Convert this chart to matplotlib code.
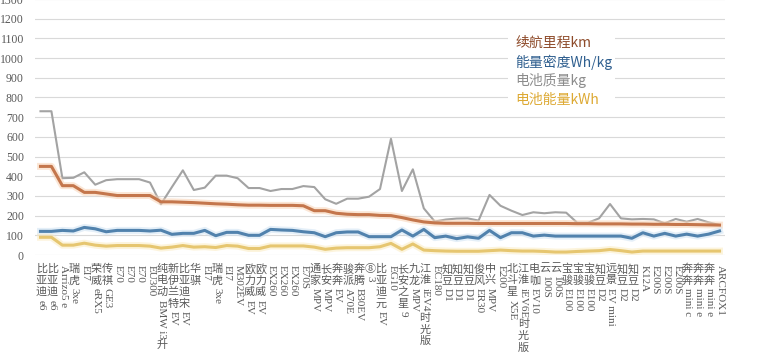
import matplotlib
matplotlib.use('Agg')
import matplotlib.pyplot as plt
import matplotlib.patheffects as pe
from matplotlib.patches import Rectangle
from matplotlib.textpath import TextPath
from matplotlib.font_manager import FontProperties

models = ['比亚迪e6', '比亚迪e6', 'Arrizo5 e', '瑞虎3xe', 'EI7', '荣威eRX5', '传祺GE3',
          'E70', 'E70', 'E70', 'EU300', '纯电动BMW i3 升', '新伊兰特EV', '比亚迪宋EV',
          '华骐', 'EI7', '瑞虎3xe', 'EI7', 'M302EV', '欧力威EV', '欧力威EV',
          'EX260', 'EX260', 'EX260', 'E70S', '通家MPV', '长安MPV', '奔奔EV',
          '骏派A70E', '奔腾B30EV', '⑧3', '比亚迪元EV', 'EG10', '长安之星9',
          '九龙MPV', '江淮iEV4 时光版', 'EC180', '知豆D1', '知豆D1', '知豆D1',
          '俊风ER30', '中兴MPV', 'E200', '北斗星X5E', '江淮iEV6E 时光版',
          '电咖EV10', '云100S', '云100S', '宝骏E100', '宝骏E100', '宝骏E100',
          '知豆D2', '远景EV mini', '知豆D2', '知豆D2', 'K12A', 'E200S', 'E200S',
          'E200S', '奔奔mini c', '奔奔mini e', '奔奔mini e', 'ARCFOX1']

range_km = [450, 450, 352, 352, 318, 318, 310, 302, 302, 302, 302, 270, 270, 268,
            266, 263, 260, 258, 255, 253, 253, 252, 252, 252, 250, 225, 225, 212,
            207, 205, 205, 201, 200, 190, 178, 168, 163, 161, 161, 161, 160, 160,
            160, 160, 160, 160, 160, 160, 160, 159, 159, 158, 158, 158, 157, 157,
            156, 156, 155, 155, 154, 153, 152]

density = [120, 120, 125, 122, 140, 133, 118, 125, 125, 125, 122, 126, 105, 110,
           110, 125, 98, 115, 115, 100, 100, 130, 127, 125, 118, 113, 93, 113,
           117, 117, 93, 93, 93, 127, 96, 130, 88, 96, 83, 92, 85, 125, 88, 113,
           113, 96, 101, 96, 96, 96, 96, 96, 96, 96, 85, 113, 96, 110, 96, 106,
           96, 106, 122]

mass = [730, 730, 390, 392, 420, 357, 380, 385, 385, 385, 368, 258, 345, 430,
        330, 342, 403, 403, 390, 340, 340, 325, 335, 335, 350, 345, 283, 260,
        286, 286, 296, 335, 590, 325, 435, 237, 170, 180, 185, 186, 175, 305,
        250, 225, 203, 217, 212, 217, 215, 164, 164, 186, 259, 186, 181, 183,
        181, 161, 183, 169, 183, 166, 152]

energy = [90, 90, 50, 50, 60, 50, 45, 48, 48, 48, 45, 35, 40, 48, 40, 42, 38,
          48, 45, 33, 33, 46, 46, 46, 46, 40, 29, 35, 37, 37, 37, 42, 59, 29,
          56, 25, 22, 20, 19, 19, 19, 22, 25, 22, 20, 20, 18, 15, 15, 18, 20,
          22, 28, 22, 15, 20, 20, 20, 20, 20, 20, 20, 20]

series_names = ['续航里程km', '能量密度Wh/kg', '电池质量kg', '电池能量kWh']

gray = '#595959'

fig = plt.figure(figsize=(7.6, 3.54), dpi=100)
ax = fig.add_axes([35 / 760, 99 / 354, 690 / 760, 256 / 354])
x = list(range(len(models)))

glow = lambda c: [pe.Stroke(linewidth=5, foreground=c, alpha=0.55), pe.Normal()]
ax.plot(x, range_km, color='#C4764C', lw=2.2, zorder=4, path_effects=glow('#F8D2B4'))
ax.plot(x, density, color='#5182AD', lw=2.2, zorder=4, path_effects=glow('#CFE2F3'))
ax.plot(x, mass, color='#A3A3A3', lw=1.5, zorder=3)
ax.plot(x, energy, color='#E6C670', lw=2.2, zorder=4, path_effects=glow('#FBEBC0'))

ax.set_xlim(-0.5, len(models) - 0.5)
ax.set_ylim(0, 1300)
ax.set_yticks(range(0, 1301, 100))
ax.set_xticks([])
ax.grid(axis='y', color='#D9D9D9', lw=0.8)
ax.set_axisbelow(True)
for s in ax.spines.values():
    s.set_visible(False)
ax.tick_params(axis='y', length=0, pad=8, colors=gray)
for t in ax.get_yticklabels():
    t.set_fontfamily('Liberation Serif')
    t.set_fontsize(8.5)

# vertical category labels: CJK upright, latin runs turned
cjk_font = FontProperties(family='Noto Sans CJK SC', size=8)
lat_font = FontProperties(family='Liberation Serif', size=8)
trans = ax.get_xaxis_transform()
for i, name in enumerate(models):
    runs = []
    buf = ''
    for ch in name:
        if ord(ch) > 0x2000:
            if buf.strip():
                runs.append(('lat', buf.strip()))
            buf = ''
            runs.append(('cjk', ch))
        else:
            buf += ch
    if buf.strip():
        runs.append(('lat', buf.strip()))
    y = 9
    for kind, s in runs:
        if kind == 'cjk':
            ax.annotate(s, (i, 0), xycoords=trans, xytext=(1, -y),
                        textcoords='offset pixels', ha='center', va='top',
                        fontproperties=cjk_font, color=gray, annotation_clip=False)
            y += 11.5
        else:
            w = TextPath((0, 0), s, prop=lat_font).get_extents().width * 100 / 72
            ax.annotate(s, (i, 0), xycoords=trans, xytext=(1, -y - 1),
                        textcoords='offset pixels', ha='center', va='top',
                        rotation=-90, fontproperties=lat_font, color=gray,
                        annotation_clip=False)
            y += w + 3

# text-only legend
fig.patches.append(Rectangle((508 / 760, 1 - 110 / 354), 107 / 760, 78 / 354,
                             transform=fig.transFigure, facecolor='white',
                             edgecolor='none', zorder=5))
leg_colors = ['#8E4B2A', '#2F5F8F', '#8C8C8C', '#DDA933']
for k, (name, c) in enumerate(zip(series_names, leg_colors)):
    fig.text(515 / 760, 1 - (43 + 19 * k) / 354, name, color=c, fontsize=10,
             family=['Noto Sans CJK SC', 'DejaVu Sans'], va='center', zorder=6)

fig.savefig('out.png', dpi=100)
